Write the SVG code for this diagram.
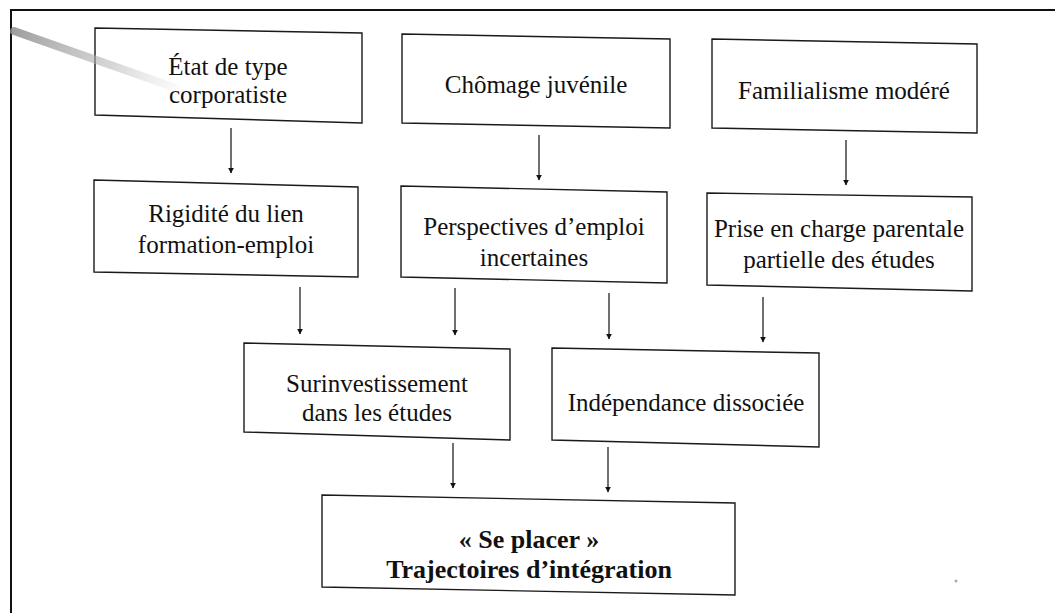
<svg xmlns="http://www.w3.org/2000/svg" width="1055" height="613" viewBox="0 0 1055 613">
  <defs>
    <marker id="ah" viewBox="0 0 10 10" refX="9" refY="5" markerWidth="6" markerHeight="7" markerUnits="userSpaceOnUse" orient="auto">
      <path d="M0,0 L10,5 L0,10 z" fill="#111"/>
    </marker>
    <linearGradient id="smudge" x1="12" y1="30" x2="178" y2="90" gradientUnits="userSpaceOnUse">
      <stop offset="0" stop-color="#8c8c8c" stop-opacity="0.85"/>
      <stop offset="0.6" stop-color="#b4b4b4" stop-opacity="0.55"/>
      <stop offset="1" stop-color="#d0d0d0" stop-opacity="0.1"/>
    </linearGradient>
  </defs>
  <style>
    .box { fill: #fff; stroke: #1a1a1a; stroke-width: 1.4; }
    .t { font-family: "Liberation Serif", "DejaVu Serif", serif; font-size: 25px; fill: #111; text-anchor: middle; }
    .b { font-weight: bold; font-size: 26px; }
    .c { stroke: #111; stroke-width: 1.2; fill: none; marker-end: url(#ah); }
  </style>
  <rect x="0" y="0" width="1055" height="613" fill="#fff"/>
  <path d="M11,613 L11,10 L1055,10" fill="none" stroke="#111" stroke-width="2"/>

  <g id="n1"><polygon class="box" points="95,28 362,33 362,123 95,115"/>
    <text class="t" x="228" y="75">État de type</text><text class="t" x="228" y="103">corporatiste</text></g>
  <g id="n2"><polygon class="box" points="402,34 670,39 670,128 402,123"/>
    <text class="t" x="536" y="93">Chômage juvénile</text></g>
  <g id="n3"><polygon class="box" points="712,39 977,44 977,133 712,128"/>
    <text class="t" x="844" y="99">Familialisme modéré</text></g>
  <g id="n4"><polygon class="box" points="94,180 358,187 358,277 94,272"/>
    <text class="t" x="226" y="222">Rigidité du lien</text><text class="t" x="226" y="253">formation-emploi</text></g>
  <g id="n5"><polygon class="box" points="401,186 667,192 667,283 401,277"/>
    <text class="t" x="534" y="235">Perspectives d’emploi</text><text class="t" x="534" y="266">incertaines</text></g>
  <g id="n6"><polygon class="box" points="707,193 972,197 972,291 707,285"/>
    <text class="t" x="839" y="237">Prise en charge parentale</text><text class="t" x="839" y="268">partielle des études</text></g>
  <g id="n7"><polygon class="box" points="244,343 510,349 510,440 244,432"/>
    <text class="t" x="377" y="392">Surinvestissement</text><text class="t" x="377" y="421">dans les études</text></g>
  <g id="n8"><polygon class="box" points="552,348 819,353 819,447 552,440"/>
    <text class="t" x="686" y="411">Indépendance dissociée</text></g>
  <g id="n9"><polygon class="box" points="322,495 735,503 735,595 322,587"/>
    <text class="t b" x="529" y="548">« Se placer »</text><text class="t b" x="529" y="578">Trajectoires d’intégration</text></g>

  <path d="M14,31 L176,88" stroke="url(#smudge)" stroke-width="8" stroke-linecap="round"/>
  <circle cx="956" cy="581" r="1.5" fill="#aaa"/>

  <g id="connectors">
    <line class="c" x1="231" y1="128" x2="231" y2="173"/>
    <line class="c" x1="539" y1="135" x2="539" y2="180"/>
    <line class="c" x1="846" y1="140" x2="846" y2="185"/>
    <line class="c" x1="300" y1="287" x2="300" y2="334"/>
    <line class="c" x1="455" y1="288" x2="455" y2="335"/>
    <line class="c" x1="609" y1="293" x2="609" y2="339"/>
    <line class="c" x1="763" y1="297" x2="763" y2="342"/>
    <line class="c" x1="453" y1="443" x2="453" y2="488"/>
    <line class="c" x1="608" y1="447" x2="608" y2="492"/>
  </g>
</svg>
